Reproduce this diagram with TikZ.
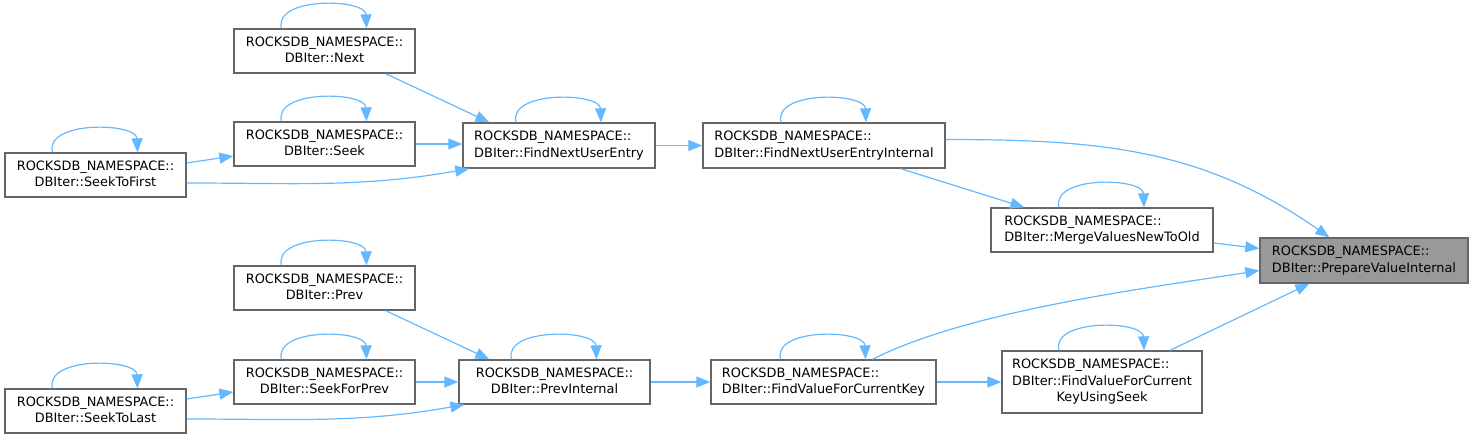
\documentclass[tikz,border=0pt]{standalone}
\usepackage{fontspec}
\setmainfont{DejaVu Sans}
\usetikzlibrary{arrows.meta}

\definecolor{edgeblue}{HTML}{63B8FF}
\definecolor{boxgray}{HTML}{666666}
\definecolor{focusgray}{HTML}{999999}

% label helpers: first line left, the rest centred
\newcommand{\ctr}[1]{\multicolumn{1}{@{}c@{}}{#1}}
\newcommand{\fnlab}[1]{\begin{tabular}{@{}l@{}}ROCKSDB\_NAMESPACE::\\#1\end{tabular}}

\begin{document}
\begin{tikzpicture}[x=1pt, y=-1pt,
    >={Triangle[length=14pt, width=11pt]},
    fnbox/.style={draw=boxgray, line width=1.3pt, fill=white, inner sep=0pt,
        font=\fontsize{12.9}{16.5}\selectfont},
    focus/.style={fnbox, fill=focusgray},
    edge/.style={->, draw=edgeblue, line width=1.2pt}]
    \useasboundingbox (0,0) rectangle (1474,439);

    % Upper chain
    \node[fnbox, minimum width=181pt, minimum height=44pt] (Next) at (324.5,51) {\fnlab{\ctr{DBIter::Next}}};
    \node[fnbox, minimum width=181pt, minimum height=44pt] (Seek) at (324.5,144) {\fnlab{\ctr{DBIter::Seek}}};
    \node[fnbox, minimum width=181pt, minimum height=44pt] (SeekFirst) at (95.5,175) {\fnlab{\ctr{DBIter::SeekToFirst}}};
    \node[fnbox, minimum width=192pt, minimum height=45pt] (FindNext) at (559,145.5) {\fnlab{\ctr{DBIter::FindNextUserEntry}}};
    \node[fnbox, minimum width=242pt, minimum height=45pt] (FindNextInt) at (824,145.5) {\fnlab{\ctr{DBIter::FindNextUserEntryInternal}}};
    \node[fnbox, minimum width=222pt, minimum height=44pt] (Merge) at (1102,230) {\fnlab{\ctr{DBIter::MergeValuesNewToOld}}};

    % Target
    \node[focus, minimum width=208pt, minimum height=45pt] (Prepare) at (1364,260.5) {\fnlab{\ctr{DBIter::PrepareValueInternal}}};

    % Lower chain
    \node[fnbox, minimum width=181pt, minimum height=44pt] (Prev) at (324.5,288) {\fnlab{\ctr{DBIter::Prev}}};
    \node[fnbox, minimum width=181pt, minimum height=44pt] (SeekPrev) at (324.5,382) {\fnlab{\ctr{DBIter::SeekForPrev}}};
    \node[fnbox, minimum width=181pt, minimum height=44pt] (SeekLast) at (95.5,411) {\fnlab{\ctr{DBIter::SeekToLast}}};
    \node[fnbox, minimum width=191pt, minimum height=44pt] (PrevInt) at (554.5,382) {\fnlab{\ctr{DBIter::PrevInternal}}};
    \node[fnbox, minimum width=225pt, minimum height=44pt] (FindVal) at (823.5,382) {\fnlab{\ctr{DBIter::FindValueForCurrentKey}}};
    \node[fnbox, minimum width=200pt, minimum height=62pt] (FindValSeek) at (1102,382) {\fnlab{DBIter::FindValueForCurrent\\\ctr{KeyUsingSeek}}};

    % Self calls
    \foreach \n in {Next,Seek,SeekFirst,FindNext,FindNextInt,Merge,Prev,SeekPrev,SeekLast,PrevInt,FindVal,FindValSeek}
        \draw[edge] ([xshift=-43pt]\n.north) .. controls +(-8,-32) and +(-1,-30) .. ([xshift=42pt]\n.north);

    % Upper calls
    \draw[edge] ([xshift=-30pt]Next.south east) -- ([xshift=27pt]FindNext.north west);
    \draw[edge] (Seek.east) -- (Seek.east -| FindNext.west);
    \draw[edge] ([yshift=12pt]SeekFirst.east) -- ([yshift=-12pt]Seek.west);
    \draw[edge] ([yshift=-8pt]SeekFirst.east) to[out=0, in=190] ([xshift=7pt]FindNext.south west);
    \draw[edge] (FindNext.east) -- (FindNextInt.west);
    \draw[edge] ([yshift=6pt]FindNextInt.east) to[out=0, in=145] ([xshift=70pt]Prepare.north west);
    \draw[edge] ([xshift=-45pt]FindNextInt.south east) -- ([xshift=34pt]Merge.north west);
    \draw[edge] ([yshift=-13pt]Merge.east) -- ([yshift=12pt]Prepare.west);

    % Lower calls
    \draw[edge] ([xshift=-30pt]Prev.south east) -- ([xshift=31pt]PrevInt.north west);
    \draw[edge] (SeekPrev.east) -- (PrevInt.west);
    \draw[edge] ([yshift=12pt]SeekLast.east) -- ([yshift=-10pt]SeekPrev.west);
    \draw[edge] ([yshift=-8pt]SeekLast.east) to[out=0, in=190] ([xshift=6pt]PrevInt.south west);
    \draw[edge] (PrevInt.east) -- (FindVal.west);
    \draw[edge] (FindVal.east) -- (FindValSeek.west);
    \draw[edge] ([xshift=49pt]FindVal.north) to[out=27, in=189, looseness=0.7] ([yshift=-10pt]Prepare.west);
    \draw[edge] ([xshift=68pt]FindValSeek.north) -- ([xshift=50pt]Prepare.south west);
\end{tikzpicture}
\end{document}
